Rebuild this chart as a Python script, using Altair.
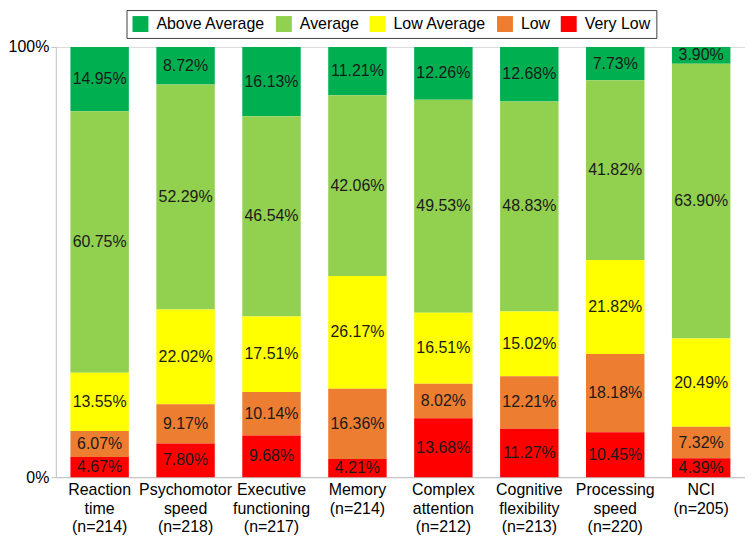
import altair as alt
import pandas as pd

categories = ["Reaction|time|(n=214)", "Psychomotor|speed|(n=218)", "Executive|functioning|(n=217)",
              "Memory|(n=214)", "Complex|attention|(n=212)", "Cognitive|flexibility|(n=213)",
              "Processing|speed|(n=220)", "NCI|(n=205)"]
levels = ["Above Average", "Average", "Low Average", "Low", "Very Low"]
colors = ["#00B050", "#92D050", "#FFFF00", "#ED7D31", "#FF0000"]

above_average = [14.95, 8.72, 16.13, 11.21, 12.26, 12.68, 7.73, 3.90]
average = [60.75, 52.29, 46.54, 42.06, 49.53, 48.83, 41.82, 63.90]
low_average = [13.55, 22.02, 17.51, 26.17, 16.51, 15.02, 21.82, 20.49]
low = [6.07, 9.17, 10.14, 16.36, 8.02, 12.21, 18.18, 7.32]
very_low = [4.67, 7.80, 9.68, 4.21, 13.68, 11.27, 10.45, 4.39]

series = [above_average, average, low_average, low, very_low]
rows = []
for li, (lvl, vals) in enumerate(zip(levels, series)):
    for cat, v in zip(categories, vals):
        rows.append({"cat": cat, "level": lvl, "value": v, "ord": 4 - li,
                     "label": f"{v:.2f}%"})
df = pd.DataFrame(rows)

FONT = "Liberation Sans"

base = alt.Chart(df)

x = alt.X("cat:N", sort=categories,
          scale=alt.Scale(paddingInner=0.32, paddingOuter=0.17),
          axis=alt.Axis(title=None, labelAngle=0, labelFontSize=16, labelFont=FONT,
                        labelColor="#000000", labelLineHeight=19, labelPadding=4,
                        labelBaseline="top",
                        labelExpr="split(datum.label, '|')", ticks=False,
                        domainColor="#bfbfbf", grid=False))

bars = base.mark_bar().encode(
    x=x,
    y=alt.Y("value:Q", stack="normalize",
            scale=alt.Scale(domain=[0, 1]),
            axis=alt.Axis(title=None, values=[0, 1], format=".0%", labelFontSize=16,
                          labelFont=FONT, labelColor="#000000", domainColor="#bfbfbf",
                          tickColor="#bfbfbf", tickSize=5, labelPadding=2,
                          grid=True, gridColor="#d9d9d9")),
    color=alt.Color("level:N", scale=alt.Scale(domain=levels, range=colors),
                    legend=alt.Legend(title=None, orient="none", legendX=71, legendY=-37,
                                      direction="horizontal", columns=5,
                                      symbolType="square", symbolSize=256,
                                      symbolStrokeWidth=0, symbolOpacity=1,
                                      labelFontSize=16, labelFont=FONT,
                                      labelColor="#000000", labelOffset=8,
                                      columnPadding=10, padding=6,
                                      strokeColor="#404040", fillColor="#ffffff")),
    order=alt.Order("ord:Q", sort="ascending"),
)

texts = base.transform_stack(
    stack="value", groupby=["cat"], as_=["s0", "s1"], offset="normalize",
    sort=[alt.SortField("ord", order="ascending")]
).transform_calculate(
    mid="(datum.s0 + datum.s1) / 2"
).mark_text(fontSize=16, font=FONT, color="#1a1a1a", baseline="middle").encode(
    x=alt.X("cat:N", sort=categories),
    y=alt.Y("mid:Q"),
    text="label:N",
)

chart = alt.layer(bars, texts).properties(
    width=692, height=432,
    padding={"left": 0, "right": 0, "top": 0, "bottom": 0},
).configure_view(stroke=None)

chart.save("out.html", embed_options={"renderer": "svg", "actions": False})
